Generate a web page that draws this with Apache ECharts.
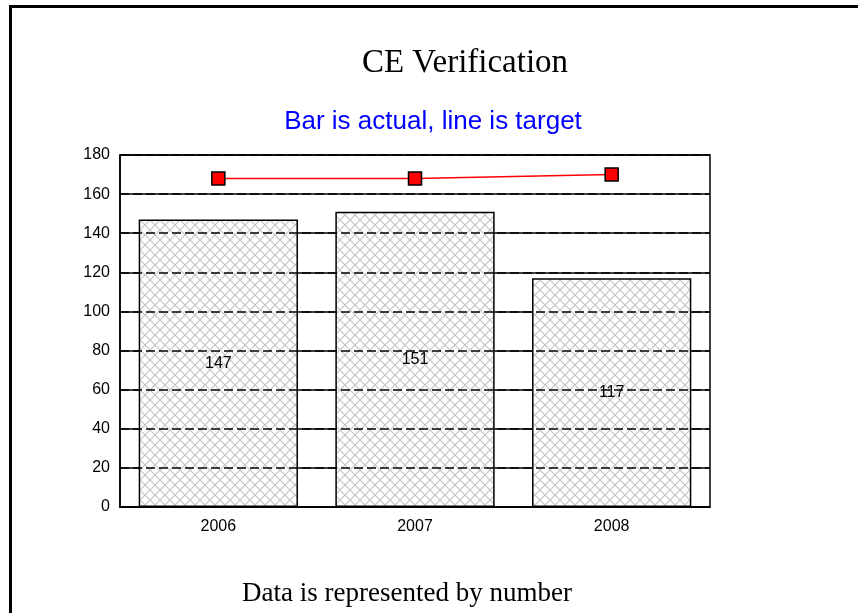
<!DOCTYPE html>
<html>
<head>
<meta charset="utf-8">
<script src="https://cdn.jsdelivr.net/npm/echarts@6/dist/echarts.min.js"></script>
<style>
  body { margin: 0; background: #fff; }
  #main { width: 858px; height: 613px; position: relative; }
  #frame { position: absolute; left: 9px; top: 5px; right: 0; bottom: 0;
           border-top: 3px solid #000; border-left: 3px solid #000; pointer-events: none; }
</style>
</head>
<body>
<div id="main"></div>
<div id="frame"></div>
<script>
// data
const years = ['2006', '2007', '2008']
const actual = [147, 151, 117]
const target = [168, 168, 170]

// grey cross hatch for the bars
function hatch() {
    const s = 10
    const c = document.createElement('canvas')
    c.width = s
    c.height = s
    const ctx = c.getContext('2d')
    ctx.fillStyle = '#fff'
    ctx.fillRect(0, 0, s, s)
    ctx.strokeStyle = '#c4c4c4'
    ctx.lineWidth = 1.2
    ctx.beginPath()
    ctx.moveTo(0, 0); ctx.lineTo(s, s)
    ctx.moveTo(s, 0); ctx.lineTo(0, s)
    ctx.stroke()
    return c
}

const chart = echarts.init(document.getElementById('main'))

chart.setOption({
    animation: false,
    title: [
        {
            text: 'CE Verification',
            left: 460, top: 42, textAlign: 'center',
            textStyle: { fontFamily: 'Liberation Serif', fontSize: 33, fontWeight: 'normal', color: '#000' }
        },
        {
            text: 'Bar is actual, line is target',
            left: 428, top: 104, textAlign: 'center',
            textStyle: { fontFamily: 'Liberation Sans', fontSize: 26, fontWeight: 'normal', color: '#0000ff' }
        },
        {
            text: 'Data is represented by number',
            left: 402, top: 575, textAlign: 'center',
            textStyle: { fontFamily: 'Liberation Serif', fontSize: 27, fontWeight: 'normal', color: '#000' }
        }
    ],
    grid: {
        left: 120, right: 148, top: 155, bottom: 106,
        show: true, borderColor: '#000', borderWidth: 1.5
    },
    xAxis: {
        type: 'category',
        data: years,
        axisLine: { lineStyle: { color: '#000', width: 1.5 } },
        axisTick: { show: false },
        axisLabel: { color: '#000', fontSize: 16, fontFamily: 'Liberation Sans', margin: 12 }
    },
    yAxis: [
        {
            type: 'value', min: 0, max: 180, interval: 20,
            axisLine: { show: true, lineStyle: { color: '#000', width: 1.5 } },
            axisTick: { show: false },
            axisLabel: { color: '#000', fontSize: 16, fontFamily: 'Liberation Sans', margin: 10 },
            splitLine: { lineStyle: { color: '#000', width: 1.5 } }
        },
        {
            // dashed grid drawn over the bars
            type: 'value', min: 0, max: 180, interval: 20, position: 'left', z: 5,
            axisLine: { show: false }, axisTick: { show: false }, axisLabel: { show: false },
            splitLine: { lineStyle: { color: '#000', width: 1.5, type: [9, 4] } }
        }
    ],
    series: [
        {
            name: 'actual',
            type: 'bar',
            data: actual,
            barWidth: '81%',
            itemStyle: {
                color: { image: hatch(), repeat: 'repeat' },
                borderColor: '#000',
                borderWidth: 1.5
            },
            label: {
                show: true, position: 'inside', color: '#000',
                fontSize: 16, fontFamily: 'Liberation Sans'
            }
        },
        {
            name: 'target',
            type: 'line',
            data: target,
            z: 10,
            symbol: 'rect',
            symbolSize: 13,
            lineStyle: { color: '#ff0000', width: 1.5 },
            itemStyle: { color: '#ff0000', borderColor: '#000', borderWidth: 1.5 }
        }
    ]
})
</script>
</body>
</html>
